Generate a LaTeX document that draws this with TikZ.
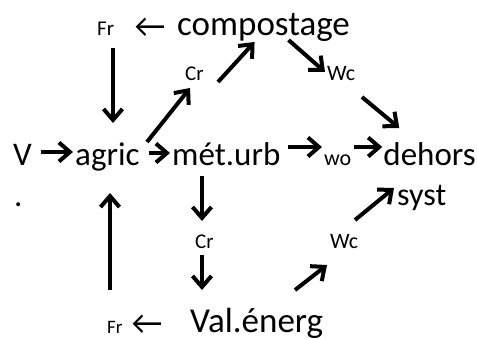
\documentclass[tikz,border=0pt]{standalone}
\usepackage{fontspec}
\setmainfont{Carlito}
\usetikzlibrary{arrows.meta}

\begin{document}
\begin{tikzpicture}[
    x=1pt, y=-1pt,
    big/.style={inner sep=0pt, anchor=base west, font=\fontsize{33}{36}\selectfont},
    huge/.style={inner sep=0pt, anchor=base west, font=\fontsize{35}{38}\selectfont},
    small/.style={inner sep=0pt, anchor=base west, font=\fontsize{21}{24}\selectfont},
    larrow/.style={inner sep=0pt, anchor=base, font=\fontsize{34}{36}\selectfont},
    flow/.style={-{Straight Barb[length=11pt,width=19pt,line width=4pt]}, line width=4pt}
]
\useasboundingbox (0,0) rectangle (477,338);

% Main row
\node[big] (V) at (13,165) {V};
\node[big] (agric) at (75,165) {agric};
\node[big] (met) at (172,165) {mét.urb};
\node[small, font=\fontsize{22}{24}\selectfont] (wo) at (324,165) {wo};
\node[big, anchor=base east] (dehors) at (476,165) {dehors};
\node[big, font=\fontsize{32}{35}\selectfont] (syst) at (397,205) {syst};
\node[big] (dot) at (14,206) {.};

% Top: compostage
\node[huge] (comp) at (177,35) {compostage};
\node[small] (Frt) at (97,35) {Fr};
\node[larrow] (lat) at (150,37) {←};
\node[small] (Crt) at (185,80) {Cr};
\node[small, font=\fontsize{22}{24}\selectfont] (Wct) at (327,80) {Wc};

% Bottom: Val.energ
\node[huge] (val) at (190,332) {Val.énerg};
\node[small, font=\fontsize{19}{22}\selectfont] (Frb) at (107,333) {Fr};
\node[larrow] (lab) at (147,334) {←};
\node[small] (Crb) at (195,248) {Cr};
\node[small, font=\fontsize{22}{24}\selectfont] (Wcb) at (330,248) {Wc};

% Arrows along the main row
\draw[flow] ([shift={(9pt,13pt)}]V.base east) -- ([shift={(-2pt,13pt)}]agric.base west);
\draw[flow] ([shift={(9pt,12pt)}]agric.base east) -- ([shift={(-2pt,12pt)}]met.base west);
\draw[flow] ([shift={(7pt,18pt)}]met.base east) -- ([shift={(-2pt,18pt)}]wo.base west);
\draw[flow] ([shift={(2pt,18pt)}]wo.base east) -- ([shift={(-1pt,18pt)}]dehors.base west);

% Arrows through compostage
\draw[flow] ([shift={(72pt,23pt)}]agric.base west) -- ([shift={(5pt,-8pt)}]Crt.base west);
\draw[flow] ([shift={(33pt,-2pt)}]Crt.base west) -- ([shift={(-9pt,-7pt)}]comp.base);
\draw[flow] ([shift={(25pt,-5pt)}]comp.base) -- ([shift={(-2pt,8pt)}]Wct.base west);
\draw[flow] ([shift={(35pt,-17pt)}]Wct.base west) -- ([shift={(16pt,37pt)}]dehors.base west);
\draw[flow] ([shift={(16pt,-13pt)}]Frt.base west) -- ([shift={(38pt,42pt)}]agric.base west);

% Arrows through Val.energ
\draw[flow] ([shift={(30pt,-11pt)}]met.base west) -- ([shift={(7pt,27pt)}]Crb.base west);
\draw[flow] ([shift={(7pt,-7pt)}]Crb.base west) -- ([shift={(12pt,42pt)}]val.base west);
\draw[flow] ([shift={(105pt,42pt)}]val.base west) -- ([shift={(-3pt,-17pt)}]Wcb.base west);
\draw[flow] ([shift={(25pt,28pt)}]Wcb.base west) -- ([shift={(-3pt,17pt)}]syst.base west);
\draw[flow] ([shift={(3pt,43pt)}]Frb.base west) -- ([shift={(35pt,-28pt)}]agric.base west);

\end{tikzpicture}
\end{document}
